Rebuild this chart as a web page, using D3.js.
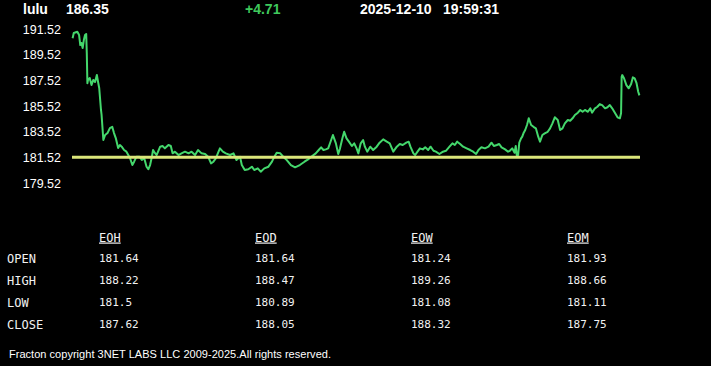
<!DOCTYPE html>
<html>
<head>
<meta charset="utf-8">
<script src="https://cdn.jsdelivr.net/npm/d3@7/dist/d3.min.js"></script>
<style>
  body { margin: 0; background: #000; }
  svg { display: block; }
</style>
</head>
<body>
<div id="chart"></div>
<script>
// quote header
var symbol = 'lulu';
var lastPrice = '186.35';
var change = '+4.71';
var quoteDate = '2025-12-10';
var quoteTime = '19:59:31';

// reference line (prev close) and y ticks
var refPrice = 181.52;
var yTicks = [179.52, 181.52, 183.52, 185.52, 187.52, 189.52, 191.52];

// session minutes of day (04:00 - 20:00)
var sessionStart = 240;
var sessionEnd = 1200;

// minute of day for each sample
var times = [
  241, 243, 249, 252, 254, 256, 258, 260, 262, 264, 265, 266, 267, 270, 273, 276, 279, 282, 284, 286,
  289, 290, 293, 296, 300, 304, 308, 311, 314, 318, 321, 324, 328, 332, 338, 342, 345, 349, 354, 358,
  362, 366, 369, 372, 375, 377, 380, 383, 389, 393, 397, 403, 407, 410, 414, 420, 425, 431, 437, 442,
  448, 453, 459, 465, 470, 475, 479, 483, 490, 495, 500, 507, 513, 518, 524, 527, 532, 538, 544, 548,
  554, 559, 565, 572, 578, 582, 586, 592, 597, 603, 610, 617, 625, 633, 639, 646, 652, 657, 661, 665,
  669, 673, 678, 681, 683, 686, 690, 693, 697, 700, 704, 708, 713, 717, 721, 724, 728, 732, 735, 739,
  744, 749, 755, 759, 766, 772, 777, 783, 789, 794, 799, 805, 809, 812, 817, 820, 824, 828, 833, 837,
  842, 846, 851, 855, 861, 867, 872, 878, 883, 887, 891, 896, 901, 907, 913, 918, 923, 927, 932, 938,
  944, 949, 953, 958, 962, 966, 972, 977, 980, 984, 988, 990, 992, 994, 996, 999, 1001, 1003, 1006, 1009,
  1012, 1016, 1020, 1024, 1028, 1031, 1035, 1039, 1044, 1048, 1052, 1056, 1061, 1065, 1069, 1073, 1078, 1082, 1086, 1090,
  1095, 1099, 1103, 1107, 1112, 1116, 1119, 1124, 1128, 1132, 1136, 1141, 1145, 1149, 1153, 1158, 1162, 1166, 1168, 1169,
  1170, 1173, 1177, 1181, 1185, 1188, 1191, 1194, 1197, 1199
];

// last trade price for each sample
var prices = [
  190.80, 191.21, 191.31, 191.05, 190.27, 190.43, 190.04, 190.66, 191.05, 191.13, 189.65, 187.29, 187.55, 187.70, 187.16, 187.55, 187.39, 187.94, 187.41, 186.92,
  185.21, 184.82, 182.87, 183.26, 183.41, 183.80, 183.90, 183.41, 183.02, 182.24, 182.48, 182.35, 182.09, 181.96, 181.47, 180.92, 181.18, 181.57, 181.57, 181.31,
  181.47, 180.79, 180.59, 180.92, 181.57, 182.09, 181.86, 181.70, 182.35, 182.40, 182.22, 182.48, 182.40, 181.83, 181.96, 181.70, 181.83, 181.96, 181.83, 181.96,
  181.70, 182.09, 181.83, 181.78, 181.57, 181.05, 181.18, 181.44, 182.22, 181.96, 181.83, 181.70, 181.83, 181.31, 181.57, 180.92, 180.53, 180.59, 180.79, 180.53,
  180.66, 180.40, 180.66, 180.79, 181.18, 181.57, 181.88, 181.83, 181.57, 181.31, 180.92, 180.74, 180.92, 181.18, 181.36, 181.62, 181.83, 182.09, 182.30, 182.09,
  182.14, 182.22, 182.87, 183.26, 183.00, 182.61, 181.78, 182.22, 183.00, 183.51, 183.00, 182.74, 182.40, 182.61, 182.22, 181.83, 182.61, 182.87, 182.35, 181.96,
  182.35, 182.09, 182.35, 182.61, 182.92, 182.74, 182.61, 181.96, 182.35, 182.56, 182.48, 182.66, 182.74, 182.35, 181.83, 181.70, 181.96, 182.22, 182.14, 182.30,
  182.09, 182.35, 182.03, 181.96, 181.78, 181.96, 182.03, 182.35, 182.61, 182.48, 182.74, 182.56, 182.35, 182.22, 182.09, 181.96, 181.78, 182.09, 182.30, 182.22,
  182.35, 182.66, 182.40, 182.48, 182.56, 182.30, 182.14, 181.96, 182.03, 182.22, 181.88, 182.40, 181.57, 181.70, 182.66, 183.00, 183.13, 183.39, 183.65, 184.04,
  184.56, 184.04, 183.90, 183.78, 183.13, 182.74, 183.26, 183.39, 183.51, 183.78, 184.17, 184.64, 184.43, 183.65, 183.78, 184.17, 184.43, 184.37, 184.56, 184.82,
  185.00, 185.21, 185.07, 185.21, 185.07, 185.34, 185.00, 185.34, 185.46, 185.67, 185.59, 185.34, 185.42, 185.59, 185.34, 184.95, 184.64, 184.56, 184.95, 187.80,
  187.93, 187.68, 187.15, 186.90, 187.23, 187.75, 187.68, 187.33, 186.63, 186.35
];

// summary table
var tableCols = ['EOH', 'EOD', 'EOW', 'EOM'];
var tableRows = ['OPEN', 'HIGH', 'LOW', 'CLOSE'];
var eohValues = ['181.64', '188.22', '181.5', '187.62'];
var eodValues = ['181.64', '188.47', '180.89', '188.05'];
var eowValues = ['181.24', '189.26', '181.08', '188.32'];
var eomValues = ['181.93', '188.66', '181.11', '187.75'];

var footerText = 'Fracton copyright 3NET LABS LLC 2009-2025.All rights reserved.';

(function() {
  var width = 711;
  var height = 366;
  var sans = '"Liberation Sans", Arial, sans-serif';
  var mono = '"DejaVu Sans Mono", "Liberation Mono", monospace';
  var green = '#44d76c';

  var svg = d3.select('#chart')
      .append('svg')
          .attr('width', width)
          .attr('height', height)
          .style('background', '#000');

  // header
  var header = svg.append('g')
      .attr('font-family', sans)
      .attr('font-weight', 'bold')
      .attr('font-size', 14)
      .attr('fill', '#fff');
  header.append('text').attr('x', 23).attr('y', 14).text(symbol);
  header.append('text').attr('x', 66).attr('y', 14).text(lastPrice);
  header.append('text').attr('x', 245).attr('y', 14).attr('fill', '#3fc95c').text(change);
  header.append('text').attr('x', 360).attr('y', 14).text(quoteDate);
  header.append('text').attr('x', 443).attr('y', 14).text(quoteTime);

  // scales
  var x = d3.scaleLinear()
      .domain([sessionStart, sessionEnd])
      .range([72, 640]);
  var y = d3.scaleLinear()
      .domain([179.52, 191.52])
      .range([183, 29]);

  // y axis, labels only
  var yAxis = svg.append('g')
      .attr('transform', 'translate(72,0)')
      .call(d3.axisLeft(y)
          .tickValues(yTicks)
          .tickSize(0)
          .tickPadding(11)
          .tickFormat(d3.format('.2f')));
  yAxis.select('.domain').remove();
  yAxis.selectAll('text')
      .attr('fill', '#fff')
      .attr('font-family', sans)
      .attr('font-size', 12.5);

  // price line
  var points = times.map(function(t, i) { return [t, prices[i]]; });
  var line = d3.line()
      .x(function(d) { return x(d[0]); })
      .y(function(d) { return y(d[1]); });

  svg.append('path')
      .datum(points)
      .attr('d', line)
      .attr('fill', 'none')
      .attr('stroke', green)
      .attr('stroke-width', 2)
      .attr('stroke-linejoin', 'round');

  // reference line
  svg.append('line')
      .attr('x1', x(sessionStart))
      .attr('x2', x(sessionEnd))
      .attr('y1', y(refPrice))
      .attr('y2', y(refPrice))
      .attr('stroke', '#dbe67a')
      .attr('stroke-width', 3);

  // table
  var colValues = [eohValues, eodValues, eowValues, eomValues];
  var colX = d3.scaleLinear().domain([0, 3]).range([99, 567]);
  var rowY = d3.scaleLinear().domain([0, 3]).range([261.5, 327.5]);

  var table = svg.append('g')
      .attr('font-family', mono)
      .attr('fill', '#f2f2f2');

  table.selectAll('.col-head')
      .data(tableCols)
      .enter().append('text')
          .attr('class', 'col-head')
          .attr('x', function(d, i) { return colX(i); })
          .attr('y', 241.5)
          .attr('font-size', 12)
          .attr('text-decoration', 'underline')
          .text(function(d) { return d; });

  table.selectAll('.row-head')
      .data(tableRows)
      .enter().append('text')
          .attr('class', 'row-head')
          .attr('x', 7)
          .attr('y', function(d, i) { return rowY(i) + 1.5; })
          .attr('font-size', 12)
          .text(function(d) { return d; });

  colValues.forEach(function(vals, ci) {
    table.selectAll('.val-' + ci)
        .data(vals)
        .enter().append('text')
            .attr('class', 'val-' + ci)
            .attr('x', colX(ci))
            .attr('y', function(d, i) { return rowY(i); })
            .attr('font-size', 11)
            .text(function(d) { return d; });
  });

  // footer
  svg.append('text')
      .attr('x', 9)
      .attr('y', 358)
      .attr('font-family', sans)
      .attr('font-size', 11)
      .attr('fill', '#fff')
      .attr('textLength', 322)
      .text(footerText);
})();
</script>
</body>
</html>
